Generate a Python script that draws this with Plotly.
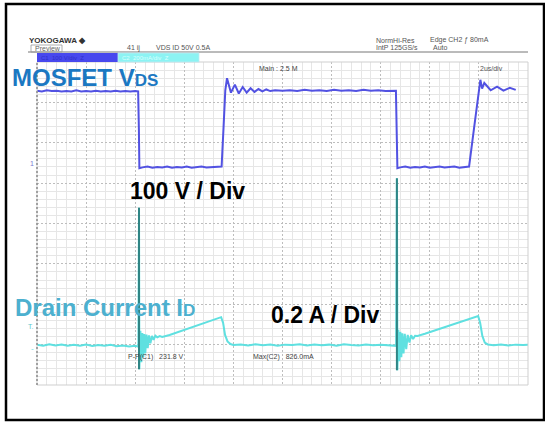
import plotly.graph_objs as go

# CH1: MOSFET Vds (time in us, volts)
vds_t = [0.0, 0.2, 0.4, 0.6, 0.8, 1.0, 1.2, 1.4, 1.6, 1.8, 2.0, 2.2, 2.4, 2.6, 2.8, 3.0, 3.2, 3.4, 3.6, 3.8, 4.0, 4.12,
         4.15, 4.17, 4.3, 4.5, 4.7, 4.9, 5.1, 5.3, 5.5, 5.7, 5.9, 6.1, 6.3, 6.5, 6.7, 6.9, 7.1, 7.3, 7.52,
         7.6, 7.67, 7.74, 7.9, 8.06, 8.22, 8.38, 8.54, 8.7, 8.86, 9.02, 9.18, 9.34, 9.5, 9.7, 10.0,
         10.3, 10.6, 10.9, 11.2, 11.5, 11.8, 12.1, 12.4, 12.7, 13.0, 13.3, 13.6, 13.9, 14.2, 14.62,
         14.65, 14.68, 14.8, 15.0, 15.2, 15.4, 15.6, 15.8, 16.0, 16.2, 16.4, 16.6, 16.8, 17.0, 17.2, 17.4, 17.6, 17.8, 17.98,
         18.06, 18.13, 18.22, 18.48, 18.74, 19.0, 19.26, 19.5, 19.76, 20.0]
vds_v = [189, 187, 190, 188, 189, 187, 188, 187, 190, 187, 188, 187, 189, 187, 188, 187, 189, 187, 188, 187, 188, 187,
         95, -3, -1, 1, -2, 0, -1, 1, -2, 0, -1, 1, -2, 0, 1, -1, 0, 1, 1,
         100, 190, 220, 184, 204, 182, 198, 184, 195, 186, 193, 187, 192, 188, 190, 189,
         190, 188, 191, 189, 190, 188, 191, 189, 190, 188, 191, 189, 190, 188, 189,
         95, -3, -1, 1, -2, 0, -1, 1, -2, 0, 1, -1, 0, 1, -2, 0, 1,
         95, 190, 216, 194, 208, 190, 199, 189, 196, 191]

# CH2: drain current (time in us, mA)
id_t = [0.0, 0.25, 0.5, 0.75, 1.0, 1.25, 1.5, 1.75, 2.0, 2.25, 2.5, 2.75, 3.0, 3.25, 3.5, 3.75, 4.0, 4.13,
        4.155, 4.17, 4.21, 4.25, 4.29, 4.33, 4.37, 4.41, 4.46, 4.51, 4.56, 4.62, 4.68, 4.75, 4.82, 4.9, 5.0,
        5.1, 5.4, 5.7, 6.0, 6.3, 6.6, 6.9, 7.2, 7.5, 7.58, 7.66, 7.76, 7.88,
        8.0, 8.3, 8.6, 8.9, 9.2, 9.5, 9.8, 10.1, 10.4, 10.7, 11.0, 11.3, 11.6, 11.9, 12.2, 12.5, 12.8, 13.1,
        13.4, 13.7, 14.0, 14.3, 14.63,
        14.66, 14.68, 14.72, 14.76, 14.80, 14.84, 14.88, 14.93, 14.98, 15.04, 15.1, 15.17, 15.24, 15.32, 15.4, 15.5,
        15.8, 16.1, 16.4, 16.7, 17.0, 17.3, 17.6, 17.97, 18.05, 18.14, 18.24, 18.36, 18.6, 18.9, 19.2, 19.5, 19.8, 20.0]
id_ma = [2, -3, 4, -2, 3, -4, 1, -3, 2, -5, 0, -4, 1, -6, -2, -7, -4, -8,
         680, -120, 70, -85, 60, -60, 55, -40, 52, -15, 48, 8, 45, 25, 46, 38, 44,
         40, 50, 62, 74, 86, 99, 112, 124, 138, 110, 50, 18, 5,
         0, 3, -2, 4, -1, 3, -3, 2, 0, 4, -2, 3, -1, 2, -3, 4, 0, -2, 3, -1, 2, -2, -4,
         826, -125, 75, -80, 65, -60, 58, -42, 55, -20, 50, 12, 48, 30, 46, 45,
         56, 68, 80, 92, 106, 118, 130, 144, 110, 45, 12, 3, -1, 3, -2, 2, 0, 1]

# switching spikes drawn darker (persistence)
spike_t = [4.155, 4.155, None, 14.66, 14.66]
spike_ma = [680, -120, None, 826, -125]

# plot area in pixels, used to place the screen decorations
PL, PR, PT, PB = 37, 528, 62, 385


def px(x):
    return (x - PL) / (PR - PL)


def py(y):
    return (PB - y) / (PB - PT)


vds_trace = go.Scatter(
    x=vds_t, y=vds_v, mode="lines", name="Vds",
    line=dict(color="#5252e2", width=2),
)
id_trace = go.Scatter(
    x=id_t, y=id_ma, mode="lines", name="Id", yaxis="y2",
    line=dict(color="#5fe0e0", width=2),
)
spike_trace = go.Scatter(
    x=spike_t, y=spike_ma, mode="lines", yaxis="y2",
    line=dict(color="#2f8585", width=2), connectgaps=False,
)

grid = dict(
    showgrid=True, gridcolor="#bdbdbd", griddash="2px,2px", gridwidth=1,
    showticklabels=False, zeroline=False, ticks="", fixedrange=True,
)
minor = dict(showgrid=True, gridcolor="#e6e6e6", griddash="solid", gridwidth=1)

layout = go.Layout(
    width=545, height=422, autosize=False,
    margin=dict(l=PL, r=545 - PR, t=PT, b=422 - PB),
    paper_bgcolor="white", plot_bgcolor="white",
    showlegend=False,
    xaxis=dict(range=[0, 20], tick0=0, dtick=2, minor=dict(tick0=0, dtick=0.4, **minor), **grid),
    yaxis=dict(range=[-540, 260], tick0=-540, dtick=100, minor=dict(tick0=-540, dtick=20, **minor), **grid),
    yaxis2=dict(range=[-198, 1402], overlaying="y", visible=False),
)

fig = go.Figure(data=[id_trace, vds_trace, spike_trace], layout=layout)

shapes = [
    # outer frame
    dict(type="rect", xref="paper", yref="paper", x0=px(6), x1=px(544), y0=py(420), y1=py(4),
         line=dict(color="black", width=2.5)),
    # grid border
    dict(type="rect", xref="paper", yref="paper", x0=0, x1=1, y0=0, y1=1,
         line=dict(color="#cfcfcf", width=1)),
    dict(type="line", xref="paper", yref="paper", x0=0, x1=0, y0=0, y1=1,
         line=dict(color="#8a8a8a", width=1.5, dash="2px,2px")),
    # header rule and Preview box
    dict(type="line", xref="paper", yref="paper", x0=px(28), x1=px(528), y0=py(52), y1=py(52),
         line=dict(color="#777", width=1)),
    dict(type="rect", xref="paper", yref="paper", x0=px(31), x1=px(62), y0=py(52), y1=py(45),
         line=dict(color="#999", width=0.8)),
    # channel bars
    dict(type="rect", xref="paper", yref="paper", x0=px(37), x1=px(118), y0=py(62), y1=py(53),
         fillcolor="#4848ee", line=dict(width=0)),
    dict(type="rect", xref="paper", yref="paper", x0=px(118), x1=px(199), y0=py(62), y1=py(53),
         fillcolor="#8cf3f3", line=dict(color="#c0e8f0", width=0.8)),
]
fig.update_layout(shapes=shapes)


def note(x, y, text, size=7, color="#555", bold=False, family="Liberation Sans, Arial"):
    fig.add_annotation(
        x=px(x), y=py(y), xref="paper", yref="paper", text=text, showarrow=False,
        xanchor="left", yanchor="middle", borderpad=0,
        font=dict(size=size, color=color, family=family, weight="bold" if bold else "normal"),
    )


# big labels
note(11, 77, 'MOSFET V<span style="font-size:17px">DS</span>', size=24, color="#1b78c2", bold=True)
note(129, 191, "100 V / Div", size=23, color="black", bold=True)
note(14, 307, 'Drain Current I<span style="font-size:17px">D</span>', size=24, color="#4cb0cf", bold=True)
note(270, 315, "0.2 A / Div", size=23, color="black", bold=True)

# scope screen texts
note(28, 40, "YOKOGAWA \u25c6", size=8, color="#333", bold=True)
note(34, 49, "Preview", size=7, color="#666")
note(126, 48, "41 \u0133", size=7, color="#555")
note(155, 48, "VDS ID 50V 0.5A", size=7, color="#555")
note(375, 40, "NormHi-Res", size=7, color="#555")
note(429, 40, "Edge CH2 \u0192 80mA", size=7, color="#555")
note(375, 48, "IntP 125GS/s", size=7, color="#555")
note(432, 48, "Auto", size=7, color="#555")
note(40, 58, "C1  100 V/div  Z", size=6, color="#3030c8")
note(121, 58, "C2  200mA/div  Z", size=6, color="#d8ffff")
note(258, 68, "Main : 2.5 M", size=7, color="#444")
note(479, 68, "2us/div", size=7, color="#555")
note(127, 357, "P-P(C1)   231.8 V", size=7, color="#444")
note(252, 357, "Max(C2)   826.0mA", size=7, color="#444")
note(29, 163, "1", size=7, color="#7a7ad0")
note(27, 326, "T.", size=7, color="#5cc8d0")
note(30, 348, "-", size=8, color="#5fe0e0")

fig.write_html("out.html", config={"displayModeBar": False},
               post_script="document.body.style.margin='0';")
